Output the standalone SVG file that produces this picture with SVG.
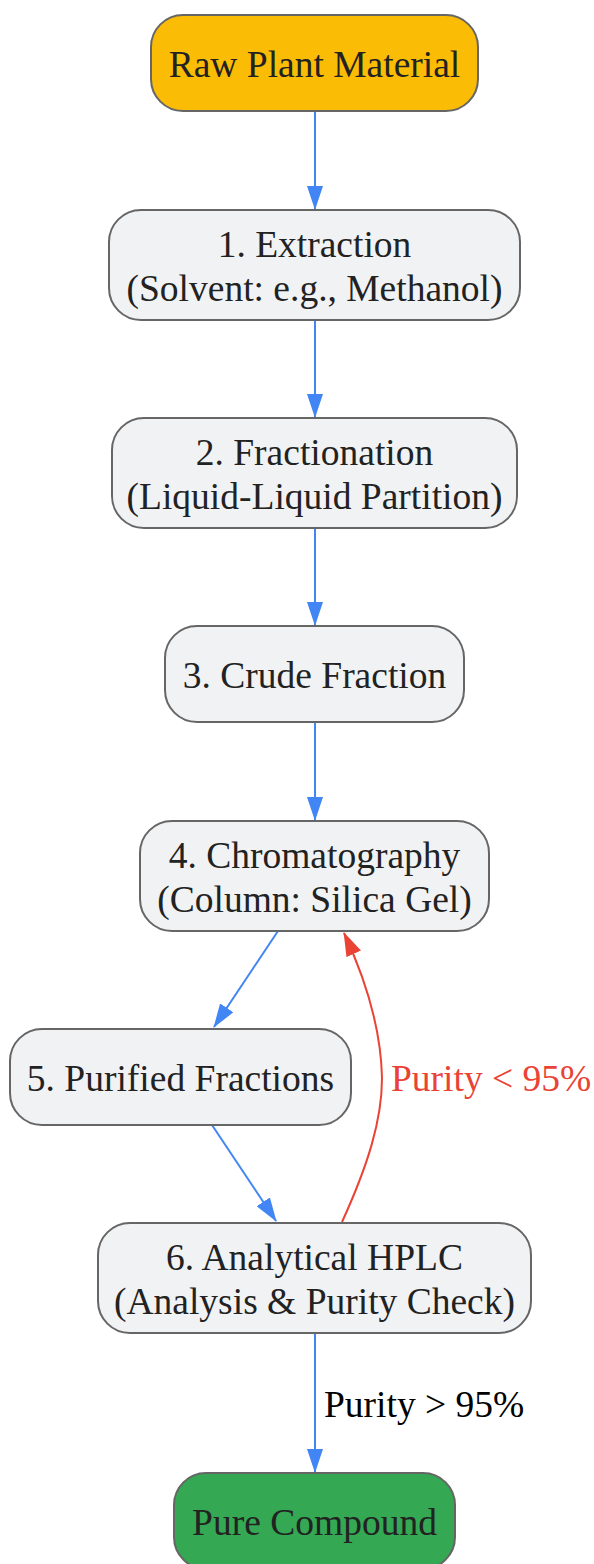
<svg xmlns="http://www.w3.org/2000/svg" width="594" height="1564" viewBox="0 0 594 1564">
<defs>
<style>
.n rect{stroke:#666;stroke-width:2}
.g rect{fill:#F1F2F4}
.t{font-family:"Liberation Serif","Times New Roman",serif;font-size:37.5px;fill:#222;text-anchor:middle}
.e{fill:none;stroke-width:2}
.b{stroke:#4285F4}
.r{stroke:#EA4335}
.lbl{font-family:"Liberation Serif","Times New Roman",serif;font-size:37.5px}
</style>
<marker id="ab" viewBox="0 0 24 16" refX="23" refY="8" markerWidth="24" markerHeight="16" markerUnits="userSpaceOnUse" orient="auto"><path d="M0,0 L24,8 L0,16 z" fill="#4285F4"/></marker>
<marker id="ar" viewBox="0 0 24 16" refX="23" refY="8" markerWidth="24" markerHeight="16" markerUnits="userSpaceOnUse" orient="auto"><path d="M0,0 L24,8 L0,16 z" fill="#EA4335"/></marker>
</defs>
<rect width="594" height="1564" fill="#fff"/>
<g id="edges">
<path class="e b" d="M315,111 L315,209" marker-end="url(#ab)"/>
<path class="e b" d="M315,320 L315,417" marker-end="url(#ab)"/>
<path class="e b" d="M315,528 L315,625" marker-end="url(#ab)"/>
<path class="e b" d="M315,722 L315,820" marker-end="url(#ab)"/>
<path class="e b" d="M278,931 L214,1027" marker-end="url(#ab)"/>
<path class="e b" d="M212,1125 L276,1221" marker-end="url(#ab)"/>
<path class="e b" d="M315,1333 L315,1472" marker-end="url(#ab)"/>
<path class="e r" d="M342,1222 C368,1165 382,1120 382,1078 C381,1030 366,980 344,933" marker-end="url(#ar)"/>
<text class="lbl" x="391" y="1091" fill="#EA4335">Purity &lt; 95%</text>
<text class="lbl" x="324" y="1417" fill="#000">Purity &gt; 95%</text>
</g>
<g id="raw" class="n"><rect x="151" y="15" width="327" height="96" rx="32" fill="#FBBC05"/><text class="t" x="314.5" y="77">Raw Plant Material</text></g>
<g id="s1" class="n g"><rect x="109" y="210" width="411" height="110" rx="32"/><text class="t" x="314.5" y="257">1. Extraction</text><text class="t" x="314.5" y="301">(Solvent: e.g., Methanol)</text></g>
<g id="s2" class="n g"><rect x="112" y="418" width="405" height="110" rx="32"/><text class="t" x="314.5" y="465">2. Fractionation</text><text class="t" x="314.5" y="509">(Liquid-Liquid Partition)</text></g>
<g id="s3" class="n g"><rect x="165" y="626" width="299" height="96" rx="32"/><text class="t" x="314.5" y="688">3. Crude Fraction</text></g>
<g id="s4" class="n g"><rect x="140" y="821" width="349" height="110" rx="32"/><text class="t" x="314.5" y="868">4. Chromatography</text><text class="t" x="314.5" y="912">(Column: Silica Gel)</text></g>
<g id="s5" class="n g"><rect x="10" y="1029" width="341" height="96" rx="32"/><text class="t" x="180.5" y="1091">5. Purified Fractions</text></g>
<g id="s6" class="n g"><rect x="98" y="1223" width="433" height="110" rx="32"/><text class="t" x="314.5" y="1270">6. Analytical HPLC</text><text class="t" x="314.5" y="1314">(Analysis &amp; Purity Check)</text></g>
<g id="pure" class="n"><rect x="174" y="1473" width="281" height="96" rx="32" fill="#34A853"/><text class="t" x="314.5" y="1535">Pure Compound</text></g>
</svg>
